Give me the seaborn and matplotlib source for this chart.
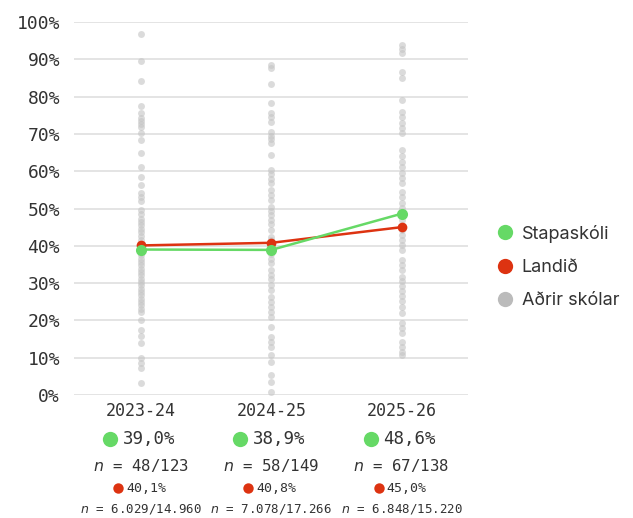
import numpy as np
import pandas as pd
import matplotlib
matplotlib.use("Agg")
import matplotlib.pyplot as plt
import matplotlib.transforms as mtransforms
from matplotlib.lines import Line2D
import seaborn as sns

# Data
years = ['2023-24', '2024-25', '2025-26']
school = [39.0, 38.9, 48.6]
country = [40.1, 40.8, 45.0]
school_n = ['48/123', '58/149', '67/138']
country_n = ['6.029/14.960', '7.078/17.266', '6.848/15.220']

others_2324 = [96.8, 89.6, 84.3, 77.5, 75.7, 74.2, 73.5, 72.6, 71.8, 70.2, 68.4, 64.9, 61.2,
               58.5, 56.3, 54.2, 53.1, 52.0, 49.6, 48.5, 47.3, 46.4, 45.5, 44.6, 43.6, 42.5,
               41.5, 40.6, 38.2, 37.4, 36.5, 35.6, 34.8, 33.9, 33.0, 32.1, 31.2, 30.3, 29.4,
               28.5, 27.6, 26.7, 25.8, 24.9, 24.0, 23.1, 22.2, 20.1, 17.4, 15.8, 13.9, 9.9,
               8.6, 7.2, 3.2]
others_2425 = [88.5, 87.6, 83.5, 78.2, 75.6, 74.5, 73.3, 70.6, 69.5, 68.5, 67.5, 64.3, 60.3,
               59.2, 58.0, 56.8, 55.0, 53.6, 52.3, 50.5, 49.3, 48.2, 47.0, 45.8, 44.2, 42.4,
               41.5, 39.8, 37.9, 36.5, 35.3, 33.5, 32.2, 31.0, 29.6, 28.2, 26.4, 25.0, 23.6,
               22.2, 21.0, 18.3, 15.6, 14.2, 12.9, 10.7, 8.9, 5.4, 3.6, 0.9]
others_2526 = [93.8, 92.7, 91.6, 86.7, 84.9, 79.1, 76.0, 74.5, 73.0, 71.6, 70.2, 65.7, 64.0,
               62.5, 61.0, 59.5, 58.2, 56.8, 54.5, 53.0, 51.5, 50.2, 47.0, 44.2, 42.8, 41.5,
               40.2, 38.9, 36.2, 34.8, 33.5, 31.7, 30.5, 29.2, 27.8, 26.5, 25.2, 23.6, 22.0,
               19.3, 18.0, 16.6, 14.3, 12.8, 11.6, 10.7]

GREEN = '#66d966'
RED = '#dd3311'
GREY = '#c4c4c4'
TEXT = '#333333'

others = pd.DataFrame({
    'year': [years[0]] * len(others_2324) + [years[1]] * len(others_2425) + [years[2]] * len(others_2526),
    'value': others_2324 + others_2425 + others_2526,
})
lines = pd.DataFrame({'year': years, 'school': school, 'country': country})

sns.set_style('white')
plt.rcParams['font.family'] = ['DejaVu Sans Mono']

fig = plt.figure(figsize=(6.33, 5.18), dpi=100)
ax = fig.add_axes([74 / 633, 123 / 518, 394 / 633, 373 / 518])

sns.stripplot(data=others, x='year', y='value', jitter=False, color=GREY, alpha=0.6,
              size=5, linewidth=0, ax=ax, zorder=2, clip_on=False)
sns.lineplot(data=lines, x='year', y='country', color=RED, lw=1.8, marker='o', markersize=7,
             markeredgewidth=0, sort=False, ax=ax, zorder=3)
sns.lineplot(data=lines, x='year', y='school', color=GREEN, lw=1.8, marker='o', markersize=8,
             markeredgewidth=0, sort=False, ax=ax, zorder=4)
for l in ax.lines:
    l.set_clip_on(False)

ax.set_xlim(-0.515, 2.51)
ax.set_ylim(0, 100)
ax.set_yticks(np.arange(0, 101, 10))
ax.set_yticklabels([f'{v}%' for v in range(0, 101, 10)], fontsize=13, color=TEXT)
ax.yaxis.grid(True, color='#e2e2e2', lw=1.3, zorder=0)
ax.xaxis.grid(False)
ax.tick_params(axis='y', length=0, pad=10)
ax.tick_params(axis='x', length=0, labelbottom=False)
ax.set_xlabel('')
ax.set_ylabel('')
for s in ax.spines.values():
    s.set_visible(False)

# annotations under each category
blend = mtransforms.blended_transform_factory(ax.transData, fig.transFigure)
def fy(py):
    return 1 - py / 518

for i, yr in enumerate(years):
    ax.text(i, fy(411), yr, transform=blend, ha='center', va='center', fontsize=12, color=TEXT)
    ax.plot([i], [fy(439)], 'o', color=GREEN, markersize=11, markeredgewidth=0, clip_on=False,
            transform=mtransforms.offset_copy(blend, fig, x=-31, y=0, units='dots'))
    ax.text(i, fy(439), f'{school[i]:.1f}%'.replace('.', ','), ha='left', va='center', fontsize=12.5,
            color=TEXT, transform=mtransforms.offset_copy(blend, fig, x=-18, y=0, units='dots'))
    ax.text(i, fy(466), f'$n$ = {school_n[i]}', transform=blend, ha='center', va='center',
            fontsize=11.3, color=TEXT)
    ax.plot([i], [fy(488)], 'o', color=RED, markersize=7.5, markeredgewidth=0, clip_on=False,
            transform=mtransforms.offset_copy(blend, fig, x=-23, y=0, units='dots'))
    ax.text(i, fy(488), f'{country[i]:.1f}%'.replace('.', ','), ha='left', va='center', fontsize=9.5,
            color=TEXT, transform=mtransforms.offset_copy(blend, fig, x=-15, y=0, units='dots'))
    ax.text(i, fy(509), f'$n$ = {country_n[i]}', transform=blend, ha='center', va='center',
            fontsize=9, color=TEXT)

handles = [
    Line2D([], [], marker='o', ls='', color=GREEN, markersize=11, markeredgewidth=0),
    Line2D([], [], marker='o', ls='', color=RED, markersize=11, markeredgewidth=0),
    Line2D([], [], marker='o', ls='', color='#bbbbbb', markersize=11, markeredgewidth=0),
]
fig.legend(handles, ['Stapaskóli', 'Landið', 'Aðrir skólar'], loc='center left',
           bbox_to_anchor=(480 / 633, 1 - 267 / 518), frameon=False, handlelength=1,
           handletextpad=0.4, labelspacing=0.9, prop={'family': 'Inter', 'size': 13},
           labelcolor=TEXT)

fig.savefig('out.png', dpi=100)
